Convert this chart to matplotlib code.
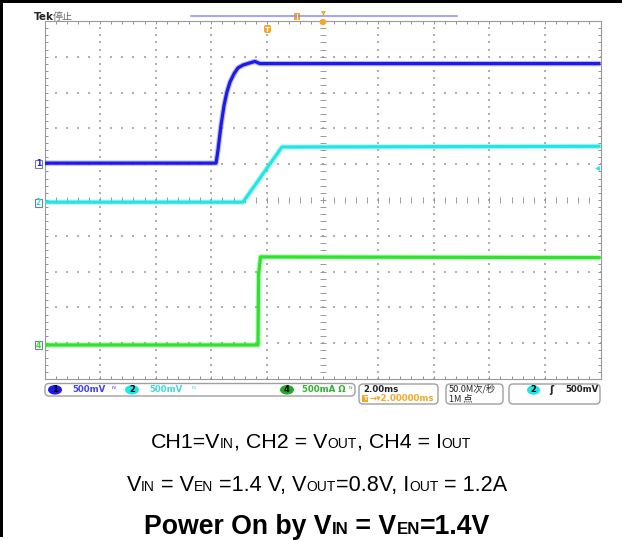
import numpy as np
import matplotlib
matplotlib.use('Agg')
import matplotlib.pyplot as plt
from matplotlib.patches import FancyBboxPatch, Rectangle, Ellipse

# waveform breakpoints (time in ms, trigger at t = 0)
ch1_t = [-8.0, -1.83, -1.76, -1.65, -1.54, -1.44, -1.33, -1.18, -1.04, -0.86, -0.61, -0.43, -0.25, 12.0]
ch1_v = [0.0, 0.0, 0.18, 0.53, 0.81, 0.99, 1.13, 1.25, 1.33, 1.37, 1.40, 1.42, 1.39, 1.39]
ch2_t = [-8.0, -0.86, 0.54, 12.0]
ch2_v = [0.0, 0.0, 0.77, 0.78]
ch4_t = [-8.0, -0.32, -0.30, -0.23, 12.0]
ch4_i = [0.0, 0.0, 0.98, 1.23, 1.22]

line1 = [("CH1=V", 0), ("IN", 1), (", CH2 = V", 0), ("OUT", 1), (", CH4 = I", 0), ("OUT", 1)]
line2 = [("V", 0), ("IN", 1), (" = V", 0), ("EN", 1), (" =1.4 V, V", 0), ("OUT", 1),
         ("=0.8V, I", 0), ("OUT", 1), (" = 1.2A", 0)]
line3 = [("Power On by V", 0), ("IN", 1), (" = V", 0), ("EN", 1), ("=1.4V", 0)]

MS_DIV = 2.0
TRIG_DIV = 4.0
V_DIV = 0.5
CH1_POS, CH2_POS, CH4_POS = 6.03, 4.94, 0.95

BLUE = '#1c1ce6'
CYAN = '#22e6e6'
GREEN = '#2ee22e'
ORANGE = '#f5a623'
GRID = '#b0b0b0'

CJK = ['Noto Sans CJK SC', 'DejaVu Sans']

W, H = 627, 540
fig = plt.figure(figsize=(W / 100, H / 100), dpi=100)
fig.patch.set_facecolor('white')

# scope screen, in divisions
L, R, T, B = 44.5, 600.5, 21.0, 379.0
ax = fig.add_axes([L / W, 1 - B / H, (R - L) / W, (B - T) / H])
ax.set_xlim(0, 10)
ax.set_ylim(0, 10)
ax.set_xticks(range(11))
ax.set_yticks(range(11))
ax.set_xticks(np.arange(0, 10.01, 0.2), minor=True)
ax.set_yticks(np.arange(0, 10.01, 0.2), minor=True)
ax.tick_params(which='both', direction='in', top=True, right=True,
               labelbottom=False, labelleft=False, length=2.2, width=0.7, color='#909090')
for s in ax.spines.values():
    s.set_color('#9a9a9a')
    s.set_linewidth(0.8)

minor = np.arange(0, 10.01, 0.2)
for k in range(1, 10):
    if k == 5:
        continue
    ax.scatter(np.full_like(minor, k), minor, s=0.6, marker='s', color=GRID, linewidths=0, zorder=1)
    ax.scatter(minor, np.full_like(minor, k), s=0.6, marker='s', color=GRID, linewidths=0, zorder=1)
ax.plot(np.full_like(minor, 5), minor, ls='none', marker='_', ms=4, mew=0.7, color='#999999', zorder=1)
ax.plot(minor, np.full_like(minor, 5), ls='none', marker='|', ms=4, mew=0.7, color='#999999', zorder=1)


def to_div_x(t):
    return np.asarray(t) / MS_DIV + TRIG_DIV


def trace(t, v, pos, color, core):
    x = to_div_x(t)
    y = np.asarray(v) / V_DIV + pos
    ax.plot(x, y, color=color, lw=core * 1.7, alpha=0.3, solid_capstyle='butt', zorder=3)
    ax.plot(x, y, color=color, lw=core, solid_capstyle='butt', zorder=4)


trace(ch4_t, ch4_i, CH4_POS, GREEN, 2.3)
trace(ch2_t, ch2_v, CH2_POS, CYAN, 2.3)
trace(ch1_t, ch1_v, CH1_POS, BLUE, 2.3)

# overlay in pixel coordinates
ov = fig.add_axes([0, 0, 1, 1], zorder=5)
ov.set_xlim(0, W)
ov.set_ylim(H, 0)
ov.axis('off')
ov.patch.set_alpha(0)

ov.add_patch(Rectangle((0, 0), 3, 537, color='black', lw=0))
ov.add_patch(Rectangle((0, 0), 622, 3, color='black', lw=0))

# header
ov.text(34, 20, "Tek", fontsize=7.5, fontweight='bold', color='#222222', va='baseline', family='DejaVu Sans')
ov.text(53, 20, "停止", fontsize=7.2, color='#666666', va='baseline', family=CJK)
ov.plot([191, 457], [16, 16], color='#8a8aff', lw=1.1)
ov.add_patch(Rectangle((294, 13), 6, 7, color=ORANGE, lw=0))
ov.plot([296.5, 296.5], [14, 19], color='white', lw=0.6)
ov.plot([323], [12.5], marker='v', ms=3.5, color=ORANGE, mew=0)
ov.add_patch(Ellipse((323, 22), 7, 6, color=ORANGE, lw=0))
ov.add_patch(FancyBboxPatch((264, 25), 7, 8, boxstyle="round,pad=0,rounding_size=2", color=ORANGE, lw=0))
ov.text(267.5, 29.5, "T", fontsize=5, color='white', fontweight='bold', ha='center', va='center')

# channel ground markers and trigger level
for num, col, py in [("1", BLUE, 164), ("2", CYAN, 202.5), ("4", GREEN, 345)]:
    ov.add_patch(Rectangle((35, py - 4), 7, 8, facecolor='white', edgecolor='#7a7a9a', lw=0.8))
    ov.text(38.5, py, num, fontsize=5.5, color=col, fontweight='bold', ha='center', va='center')
ov.plot([597], [167.5], marker='<', ms=3.5, color=CYAN, mew=0)

# status bar
def box(x0, x1, y0, y1):
    ov.add_patch(FancyBboxPatch((x0, y0), x1 - x0, y1 - y0, boxstyle="round,pad=0,rounding_size=4",
                                facecolor='white', edgecolor='#a0a0a0', lw=1.0))


box(45, 355, 383.5, 396)
box(359, 438, 384, 404)
box(446, 503, 384, 404)
box(509, 600, 384, 404)

sb = dict(fontsize=6.2, fontweight='bold', va='center', family='DejaVu Sans')
for cx, num, col in [(55, "1", BLUE), (132, "2", CYAN), (287, "4", '#22aa22')]:
    ov.add_patch(Ellipse((cx, 389.8), 14, 9.5, color=col, lw=0))
    ov.text(cx, 389.8, num, fontsize=6, color='black', ha='center', va='center', fontweight='bold')
ov.text(72, 389.8, "500mV", color='#4040ee', **sb)
ov.text(112, 389.5, "ᴺ", fontsize=6, color='#4040ee', va='center')
ov.text(149, 389.8, "500mV", color='#40d8d8', **sb)
ov.text(191, 389.5, "ᴺ", fontsize=6, color='#40d8d8', va='center')
ov.text(302, 389.8, "500mA Ω", color='#30b030', **sb)
ov.text(348.5, 389.5, "ᴺ", fontsize=5.5, color='#30b030', va='center')

ov.text(363, 389, "2.00ms", color='#222222', **sb)
ov.add_patch(Rectangle((362, 395), 6, 7, color=ORANGE, lw=0))
ov.text(365, 398.5, "T", fontsize=4.5, color='white', fontweight='bold', ha='center', va='center')
ov.text(369, 398.5, "→▾2.00000ms", color=ORANGE, **sb)

ov.text(449, 389, "50.0M次/秒", color='#222222', fontsize=6.6, va='center', family=CJK)
ov.text(449, 399, "1M 点", color='#222222', fontsize=6.6, va='center', family=CJK)

ov.add_patch(Ellipse((533.5, 390), 13, 9.5, color=CYAN, lw=0))
ov.text(533.5, 390, "2", fontsize=6, color='black', ha='center', va='center', fontweight='bold')
ov.text(551, 390, "ʃ", fontsize=7, color='#222222', ha='center', va='center', fontweight='bold')
ov.text(565, 390, "500mV", color='#222222', **sb)

# caption lines with small-caps subscripts
renderer = fig.canvas.get_renderer()


def rich_line(parts, cx, base, big, small, bold):
    wt = 'bold' if bold else 'normal'
    texts, widths = [], []
    for s, sub in parts:
        size = small if sub else big
        t = ov.text(0, base, s, fontsize=size, fontweight=wt, family='Liberation Sans',
                    va='baseline', ha='left', color='black')
        probe = ov.text(0, 0, "|" + s + "|", fontsize=size, fontweight=wt, family='Liberation Sans')
        ref = ov.text(0, 0, "||", fontsize=size, fontweight=wt, family='Liberation Sans')
        w = probe.get_window_extent(renderer).width - ref.get_window_extent(renderer).width
        probe.remove()
        ref.remove()
        texts.append(t)
        widths.append(w)
    x = cx - sum(widths) / 2
    for t, w in zip(texts, widths):
        t.set_x(x)
        x += w


rich_line(line1, 311, 448, 15.4, 10.0, False)
rich_line(line2, 317, 491, 15.6, 10.0, False)
rich_line(line3, 317, 534, 19.2, 12.2, True)

fig.savefig('out.png', dpi=100)
